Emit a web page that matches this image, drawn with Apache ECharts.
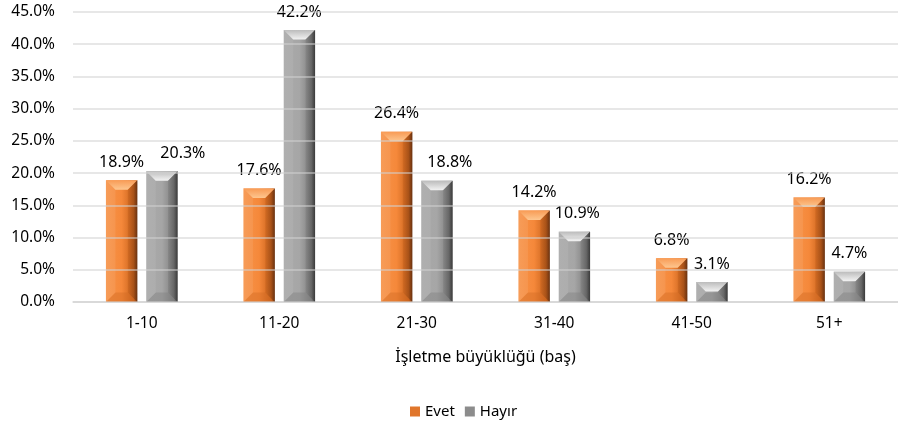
<!DOCTYPE html>
<html>
<head>
<meta charset="utf-8">
<script src="https://cdn.jsdelivr.net/npm/echarts@6/dist/echarts.min.js"></script>
<style>
  html, body { margin: 0; padding: 0; background: #fff; }
  #chart { width: 898px; height: 430px; }
</style>
</head>
<body>
<div id="chart"></div>
<script>
const categories = ['1-10', '11-20', '21-30', '31-40', '41-50', '51+'];
const evet = [18.9, 17.6, 26.4, 14.2, 6.8, 16.2];
const hayir = [20.3, 42.2, 18.8, 10.9, 3.1, 4.7];
const seriesNames = ['Evet', 'Hayır'];

// bevel colours for the two series
const palettes = [
    { left: '#f7944a', mid: '#f5883a', right: '#c8621c', edge: '#6a3210',
      topIn: '#fdc68f', topOut: '#f89b55', bottom: '#d06a22', legend: '#e0762c' },
    { left: '#a9a9a9', mid: '#a6a6a6', right: '#7e7e7e', edge: '#3a3a3a',
      topIn: '#f2f2f2', topOut: '#bcbcbc', bottom: '#7c7c7c', legend: '#8c8c8c' }
];

// a few labels in the original were dragged sideways
const labelShift = { 'Hayır': { 0: 21, 2: 13, 3: 3 } };

const chart = echarts.init(document.getElementById('chart'));

function bevelBar(name, side, pal) {
    return function (params, api) {
        const idx = api.value(0);
        const val = api.value(1);
        const base = api.coord([idx, 0]);
        const top = api.coord([idx, val]);
        const band = api.size([1, 0])[0];
        const w = band * 0.228;
        const gap = band * 0.065;
        const x = side < 0 ? base[0] - gap / 2 - w : base[0] + gap / 2;
        const y0 = top[1];
        const y1 = base[1];
        const h = y1 - y0;
        const b = Math.min(9.5, h / 2, w / 3);
        const dx = (labelShift[name] && labelShift[name][idx]) || 0;
        const body = new echarts.graphic.LinearGradient(0, 0, 1, 0, [
            { offset: 0, color: pal.left },
            { offset: 0.5, color: pal.mid },
            { offset: 0.88, color: pal.right },
            { offset: 1, color: pal.edge }
        ]);
        return {
            type: 'group',
            children: [
                {
                    type: 'rect',
                    shape: { x: x, y: y0, width: w, height: h },
                    style: { fill: body },
                    textContent: {
                        style: {
                            text: val.toFixed(1) + '%',
                            fill: '#000',
                            fontSize: 16,
                            fontFamily: 'Noto Sans'
                        }
                    },
                    textConfig: { position: 'top', distance: 10, offset: [dx, 0] }
                },
                {
                    type: 'polygon',
                    shape: { points: [[x, y0], [x + w, y0], [x + w - b, y0 + b], [x + b, y0 + b]] },
                    style: {
                        fill: new echarts.graphic.LinearGradient(0, 0, 0, 1, [
                            { offset: 0, color: pal.topOut },
                            { offset: 1, color: pal.topIn }
                        ])
                    }
                },
                {
                    type: 'polygon',
                    shape: { points: [[x, y1], [x + w, y1], [x + w - b, y1 - b], [x + b, y1 - b]] },
                    style: { fill: pal.bottom, opacity: 0.4 }
                },
                {
                    type: 'polygon',
                    shape: { points: [[x + w, y0], [x + w, y1], [x + w - b, y1 - b], [x + w - b, y0 + b]] },
                    style: {
                        fill: new echarts.graphic.LinearGradient(0, 0, 1, 0, [
                            { offset: 0, color: pal.right },
                            { offset: 1, color: pal.edge }
                        ]),
                        opacity: 0.55
                    }
                },
                {
                    type: 'polygon',
                    shape: { points: [[x, y0], [x, y1], [x + b, y1 - b], [x + b, y0 + b]] },
                    style: { fill: '#ffffff', opacity: 0.08 }
                }
            ]
        };
    };
}

function makeSeries(name, values, side, pal) {
    return {
        name: name,
        type: 'custom',
        renderItem: bevelBar(name, side, pal),
        itemStyle: { color: pal.legend },
        encode: { x: 0, y: 1 },
        data: values.map((v, i) => [i, v]),
        z: 2
    };
}

const option = {
    animation: false,
    textStyle: { fontFamily: 'Noto Sans' },
    grid: { left: 73, right: -11, top: 12, bottom: 128 },
    legend: {
        data: seriesNames,
        bottom: 6,
        left: 405,
        icon: 'rect',
        itemWidth: 10,
        itemHeight: 10,
        itemGap: 10,
        textStyle: { fontSize: 15, color: '#000', fontFamily: 'Noto Sans' }
    },
    xAxis: {
        type: 'category',
        data: categories,
        name: 'İşletme büyüklüğü (baş)',
        nameLocation: 'middle',
        nameGap: 47,
        nameTextStyle: { fontSize: 16, color: '#000' },
        axisLine: { lineStyle: { color: '#d9d9d9', width: 1.5 } },
        axisTick: { show: false },
        axisLabel: { fontSize: 15.5, color: '#000', margin: 14 }
    },
    yAxis: {
        type: 'value',
        min: 0,
        max: 45,
        interval: 5,
        z: 3,
        axisLine: { show: false },
        axisTick: { show: false },
        splitLine: { lineStyle: { color: 'rgba(210,210,210,0.7)', width: 1.5 } },
        axisLabel: { fontSize: 15.5, color: '#000', margin: 18, formatter: v => v.toFixed(1) + '%' }
    },
    series: [
        makeSeries(seriesNames[0], evet, -1, palettes[0]),
        makeSeries(seriesNames[1], hayir, 1, palettes[1])
    ]
};

chart.setOption(option);
</script>
</body>
</html>
